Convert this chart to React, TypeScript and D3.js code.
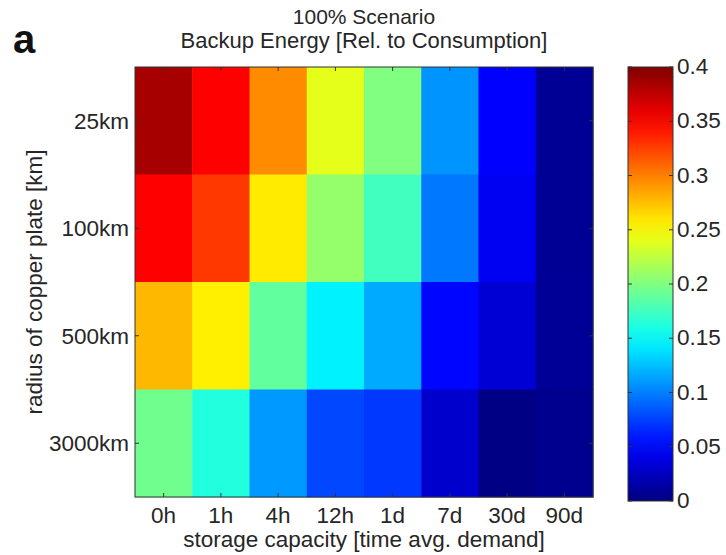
import React from "react";
import * as d3 from "d3";

const storage = ["0h", "1h", "4h", "12h", "1d", "7d", "30d", "90d"];
const radius = ["25km", "100km", "500km", "3000km"];
const row25 = [0.385, 0.35, 0.295, 0.24, 0.2, 0.108, 0.05, 0.008];
const row100 = [0.35, 0.328, 0.258, 0.208, 0.175, 0.097, 0.045, 0.008];
const row500 = [0.278, 0.256, 0.188, 0.145, 0.117, 0.052, 0.033, 0.009];
const row3000 = [0.194, 0.163, 0.11, 0.078, 0.072, 0.03, 0.002, 0.006];
const values = [row25, row100, row500, row3000];
const cbTicks = [0, 0.05, 0.1, 0.15, 0.2, 0.25, 0.3, 0.35, 0.4];

const W = 726, H = 555;
const L = 135, R = 593, T = 67, B = 497;
const CBX = 628, CBW = 45, CBT = 67, CBB = 501;
const FONT = "'Liberation Sans', Arial, Helvetica, sans-serif";
const FS = 22.5;
const TXT = "#262626";

const jet = d3
  .scaleLinear<string>()
  .domain([0, 0.125, 0.375, 0.625, 0.875, 1])
  .range(["#000080", "#0000ff", "#00ffff", "#ffff00", "#ff0000", "#800000"])
  .interpolate(d3.interpolateRgb)
  .clamp(true);
const vmap = d3.scaleLinear().domain([0, 0.4]).range([0, 1]);
const color = (v: number) => jet(vmap(v));

export default function App() {
  const x = d3.scaleBand<string>().domain(storage).range([L, R]).padding(0);
  const y = d3.scaleBand<string>().domain(radius).range([T, B]).padding(0);
  const cy = d3.scaleLinear().domain([0, 0.4]).range([CBB, CBT]);
  const stops = d3.range(0, 1.0001, 0.05);

  return (
    <svg width={W} height={H} style={{ position: "absolute", left: 0, top: 0, background: "#fff" }}>
      <defs>
        <linearGradient id="jetgrad" x1="0" y1="1" x2="0" y2="0">
          {stops.map((s, i) => (
            <stop key={i} offset={s} stopColor={jet(s)} />
          ))}
        </linearGradient>
      </defs>
      <rect width={W} height={H} fill="#fff" />
      {values.map((row, ri) =>
        row.map((v, ci) => (
          <rect
            key={`${ri}-${ci}`}
            x={x(storage[ci])}
            y={y(radius[ri])}
            width={x.bandwidth() + 0.5}
            height={y.bandwidth() + 0.5}
            fill={color(v)}
          />
        ))
      )}
      <rect x={L} y={T} width={R - L} height={B - T} fill="none" stroke="#333" strokeWidth={1} />
      {storage.map((s) => {
        const cx = (x(s) as number) + x.bandwidth() / 2;
        return (
          <g key={s}>
            <line x1={cx} x2={cx} y1={B} y2={B - 4} stroke="#333" />
            <line x1={cx} x2={cx} y1={T} y2={T + 4} stroke="#333" />
            <text x={cx} y={523} textAnchor="middle" fontFamily={FONT} fontSize={FS} fill={TXT}>
              {s}
            </text>
          </g>
        );
      })}
      {radius.map((r) => {
        const yy = (y(r) as number) + y.bandwidth() / 2;
        return (
          <g key={r}>
            <line x1={L} x2={L + 4} y1={yy} y2={yy} stroke="#333" />
            <line x1={R} x2={R - 4} y1={yy} y2={yy} stroke="#333" />
            <text x={129} y={yy + 8} textAnchor="end" fontFamily={FONT} fontSize={FS} fill={TXT}>
              {r}
            </text>
          </g>
        );
      })}
      <text x={(L + R) / 2} y={547} textAnchor="middle" fontFamily={FONT} fontSize={FS} fill={TXT}>
        storage capacity [time avg. demand]
      </text>
      <text
        transform={`translate(42,${(T + B) / 2}) rotate(-90)`}
        textAnchor="middle"
        fontFamily={FONT}
        fontSize={FS}
        fill={TXT}
      >
        radius of copper plate [km]
      </text>
      <text x={(L + R) / 2} y={24} textAnchor="middle" fontFamily={FONT} fontSize={21} fill={TXT}>
        100% Scenario
      </text>
      <text x={(L + R) / 2} y={48} textAnchor="middle" fontFamily={FONT} fontSize={22} fill={TXT}>
        Backup Energy [Rel. to Consumption]
      </text>
      <text x={13} y={53} fontFamily={FONT} fontSize={40} fontWeight="bold" fill="#111">
        a
      </text>
      <rect x={CBX} y={CBT} width={CBW} height={CBB - CBT} fill="url(#jetgrad)" stroke="#333" strokeWidth={1} />
      {cbTicks.map((t) => {
        const yy = cy(t);
        return (
          <g key={t}>
            <line x1={CBX} x2={CBX + 4} y1={yy} y2={yy} stroke="#333" />
            <line x1={CBX + CBW} x2={CBX + CBW - 4} y1={yy} y2={yy} stroke="#333" />
            <text x={677} y={yy + 7} fontFamily={FONT} fontSize={FS} fill={TXT}>
              {String(t)}
            </text>
          </g>
        );
      })}
    </svg>
  );
}
